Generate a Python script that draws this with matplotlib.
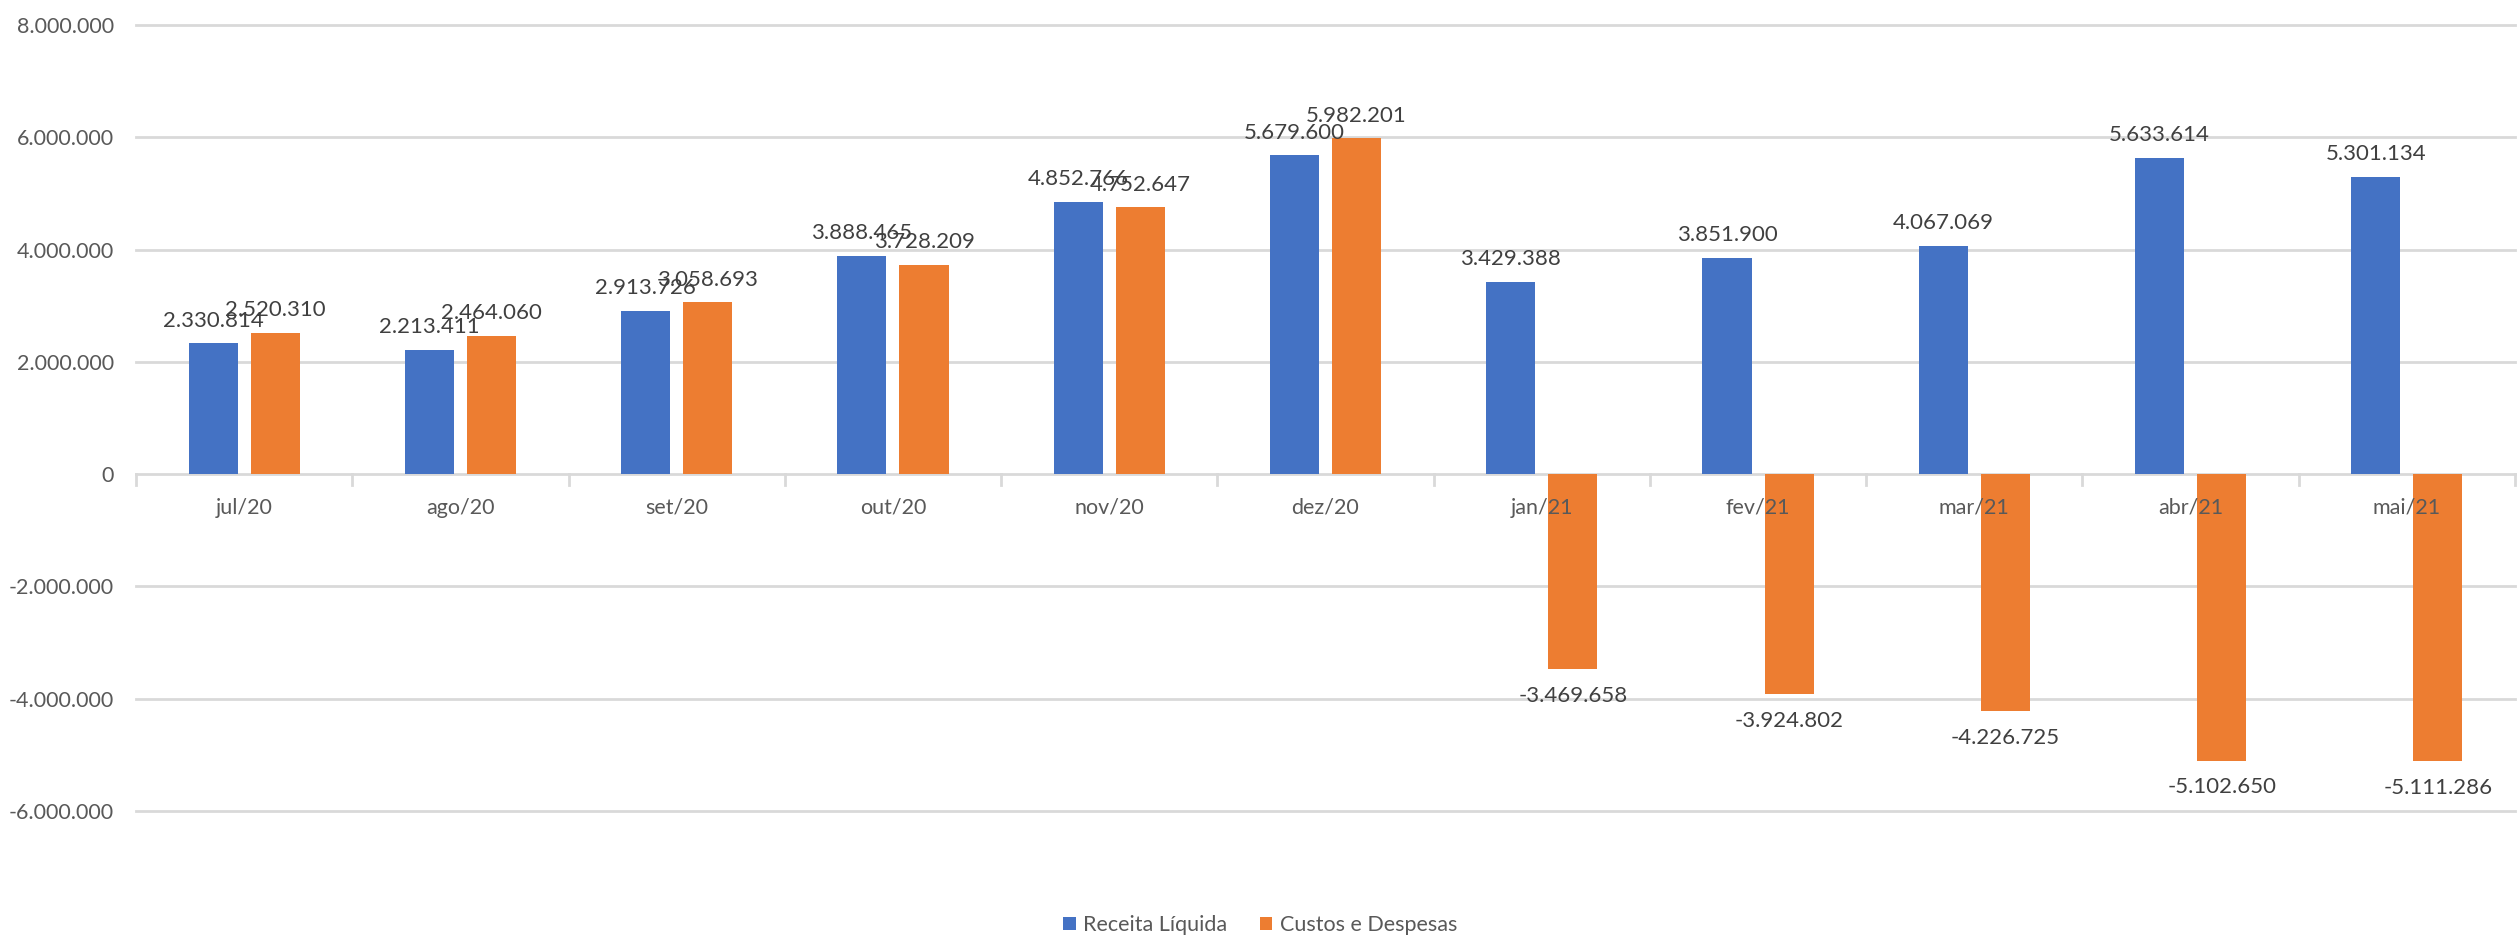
import matplotlib
matplotlib.use("Agg")
import matplotlib.pyplot as plt
import numpy as np
from matplotlib.patches import Circle

categories = ["jul/20", "ago/20", "set/20", "out/20", "nov/20", "dez/20",
              "jan/21", "fev/21", "mar/21", "abr/21", "mai/21"]
receita = [2330814, 2213411, 2913726, 3888465, 4852766, 5679600,
           3429388, 3851900, 4067069, 5633614, 5301134]
custos = [2520310, 2464060, 3058693, 3728209, 4752647, 5982201,
          -3469658, -3924802, -4226725, -5102650, -5111286]
series_names = ["Receita Líquida", "Custos e Despesas"]
yticks = [-6000000, -4000000, -2000000, 0, 2000000, 4000000, 6000000, 8000000]

BLUE = "#4472C4"
ORANGE = "#ED7D31"
GRID = "#D9D9D9"
AXTXT = "#595959"
LBLTXT = "#404040"
FONT = ["Lato", "DejaVu Sans"]
FS = 15.5

def fmt(v):
    s = f"{abs(int(v)):,}".replace(",", ".")
    return ("-" if v < 0 else "") + s

W, H = 2519, 936
fig = plt.figure(figsize=(W / 100, H / 100), dpi=100)
ax = fig.add_axes([136 / W, 1 - 811 / H, (2515 - 136) / W, (811 - 25) / H])

x = np.arange(len(categories))
bw = 0.227
off = 0.1435
b1 = ax.bar(x - off, receita, bw, color=BLUE, label=series_names[0], zorder=3)
b2 = ax.bar(x + off, custos, bw, color=ORANGE, label=series_names[1], zorder=3)

ax.set_xlim(-0.5, len(categories) - 0.5)
ax.set_ylim(-6000000, 8000000)
ax.set_yticks(yticks)
ax.set_yticklabels([fmt(v) for v in yticks], fontsize=FS, color=AXTXT, family=FONT)
for v in yticks:
    ax.axhline(v, color=GRID, lw=2, zorder=1, clip_on=False)
for s in ax.spines.values():
    s.set_visible(False)
ax.tick_params(axis="y", length=0, pad=16)
ax.set_xticks([])

# category boundary tick marks at zero line
for b in np.arange(-0.5, len(categories) + 0.5, 1.0):
    ax.plot([b, b], [0, -200000], color=GRID, lw=2, zorder=2, clip_on=False)

# x category labels just below the zero line
for i, c in enumerate(categories):
    ax.annotate(c, (i, 0), xytext=(0, -17), textcoords="offset points",
                ha="center", va="top", fontsize=FS, color=AXTXT, family=FONT)

# data labels
for bars, vals in ((b1, receita), (b2, custos)):
    for r, v in zip(bars, vals):
        cx = r.get_x() + r.get_width() / 2
        if v >= 0:
            ax.annotate(fmt(v), (cx, v), xytext=(0, 9), textcoords="offset points",
                        ha="center", va="bottom", fontsize=FS + 0.5, color=LBLTXT, family=FONT, zorder=5)
        else:
            ax.annotate(fmt(v), (cx, v), xytext=(0, -12), textcoords="offset points",
                        ha="center", va="top", fontsize=FS + 0.5, color=LBLTXT, family=FONT, zorder=5)

leg = fig.legend(handles=[b1, b2], labels=series_names, loc="center",
                 bbox_to_anchor=(1260 / W, 1 - 925 / H), ncol=2, frameon=False,
                 prop={"family": FONT, "size": FS}, handlelength=0.6, handleheight=0.6,
                 handletextpad=0.35, columnspacing=1.5, borderpad=0, borderaxespad=0)
for t in leg.get_texts():
    t.set_color(AXTXT)

# grey round artifact in bottom-right corner
fig.patches.append(Circle((2512 / W, 1 - 975 / H), 48 / W, transform=fig.transFigure,
                          color="#D0D0D0", zorder=0))

fig.savefig("out.png", dpi=100)
